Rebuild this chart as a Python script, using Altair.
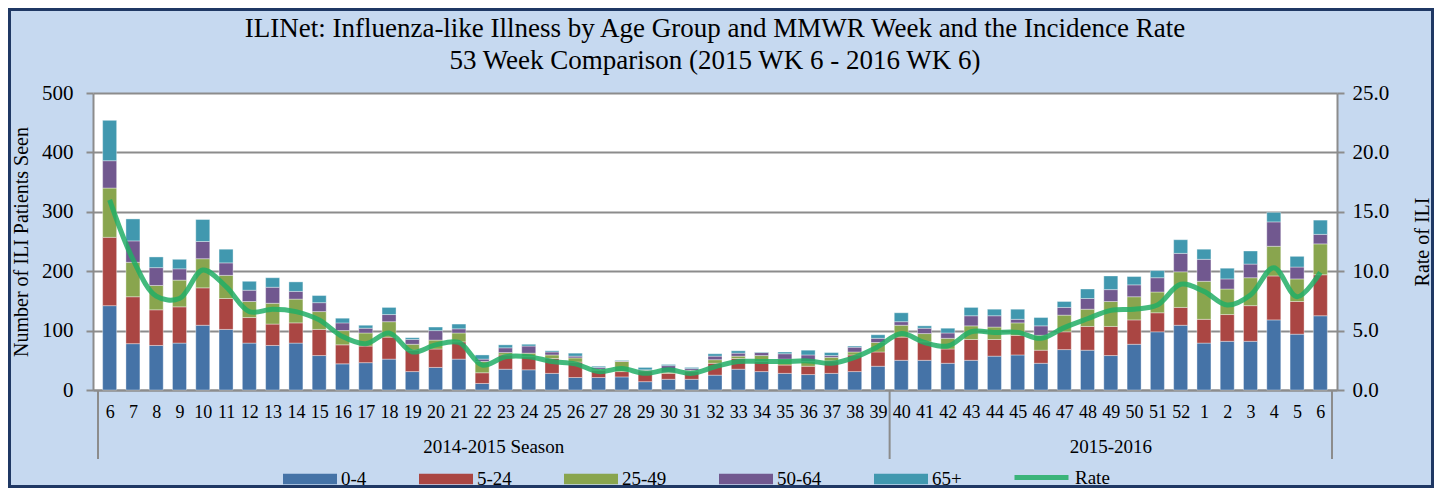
import json
import altair as alt
import pandas as pd

# ---------------- data ----------------
weeks = [str(w) for w in list(range(6, 53)) + list(range(1, 7))]
age_groups = ["0-4", "5-24", "25-49", "50-64", "65+"]
age_colors = ["#4573A7", "#AA4643", "#89A54E", "#71588F", "#4198AF"]

v_0_4 = [142, 78, 75, 79, 109, 102, 79, 75, 79, 58,
         44, 46, 52, 31, 38, 52, 11, 35, 34, 28,
         21, 21, 22, 14, 18, 18, 25, 35, 31, 28,
         26, 28, 31, 40, 50, 50, 45, 50, 57, 59,
         45, 68, 67, 58, 77, 98, 109,
         79, 82, 82, 118, 94, 125]
v_5_24 = [115, 79, 60, 61, 63, 52, 43, 36, 34, 44,
          32, 28, 37, 36, 31, 29, 18, 24, 22, 25,
          26, 12, 9, 18, 10, 13, 20, 18, 17, 14,
          14, 21, 28, 24, 39, 31, 24, 35, 28, 33,
          22, 30, 40, 49, 41, 32, 30,
          40, 45, 60, 74, 55, 69]
v_25_49 = [83, 58, 41, 45, 49, 39, 27, 35, 40, 30,
           24, 22, 26, 10, 15, 15, 19, 4, 6, 6,
           7, 2, 17, 1, 2, 2, 6, 4, 10, 10,
           8, 6, 5, 16, 20, 14, 18, 23, 21, 21,
           25, 28, 29, 42, 39, 35, 60,
           64, 43, 47, 50, 38, 52]
v_50_64 = [46, 36, 30, 19, 29, 21, 19, 27, 13, 15,
           13, 8, 12, 8, 16, 7, 4, 8, 12, 5,
           3, 3, 1, 1, 11, 3, 6, 5, 5, 9,
           11, 3, 8, 7, 6, 9, 9, 17, 19, 6,
           16, 13, 18, 20, 20, 24, 31,
           37, 17, 23, 41, 20, 16]
v_65p = [68, 37, 18, 16, 37, 23, 15, 16, 16, 12,
         8, 5, 12, 3, 6, 8, 7, 5, 3, 2,
         5, 2, 1, 4, 2, 2, 4, 4, 1, 3,
         8, 5, 2, 6, 15, 4, 8, 14, 11, 17,
         14, 10, 16, 23, 14, 12, 23,
         17, 18, 22, 16, 18, 24]
rate = [16.0, 11.0, 7.9, 7.7, 10.1, 8.7, 6.6, 6.8, 6.6, 5.9,
        4.5, 3.9, 4.8, 3.2, 3.8, 4.0, 2.1, 2.8, 2.8, 2.4,
        2.2, 1.55, 1.8, 1.4, 1.7, 1.4, 1.96, 2.4, 2.4, 2.4,
        2.45, 2.25, 2.75, 3.65, 4.75, 4.0, 3.7, 4.9, 4.85, 4.85,
        4.35, 5.25, 6.0, 6.7, 6.8, 7.15, 8.9,
        8.3, 7.15, 8.0, 10.3, 7.85, 9.9]

season_labels = ["2014-2015 Season", "2015-2016"]
season_bounds = [-0.5, 33.5, 52.5]

title_lines = ["ILINet: Influenza-like Illness by Age Group and MMWR Week and the Incidence Rate",
               "53 Week Comparison (2015 WK 6 - 2016 WK 6)"]

# ---------------- tables ----------------
series = [v_0_4, v_5_24, v_25_49, v_50_64, v_65p]
rows = []
for i in range(len(weeks)):
    for k, (g, vals) in enumerate(zip(age_groups, series)):
        rows.append({"idx": i, "age": g, "count": vals[i], "order": k})
bar_df = pd.DataFrame(rows)
rate_df = pd.DataFrame({"idx": list(range(len(weeks))), "rate": rate, "series": ["Rate"] * len(weeks)})
bound_df = pd.DataFrame({"idx": season_bounds})
season_df = pd.DataFrame({
    "idx": [(season_bounds[0] + season_bounds[1]) / 2, (season_bounds[1] + season_bounds[2]) / 2],
    "label": season_labels,
})

W, H = 1244, 297
PL, PT, PR, PB = 85, 85, 97, 98
FONT = "Liberation Serif"
GRAY = "#8c8c8c"

xscale = alt.Scale(domain=[-0.5, 52.5], nice=False, zero=False)
label_expr = json.dumps(weeks) + "[datum.value]"


def x_enc():
    return alt.X("idx:Q", scale=xscale, title=None,
                 axis=alt.Axis(values=list(range(len(weeks))), labelExpr=label_expr, ticks=False, grid=False,
                               domainColor=GRAY, domainWidth=2, labelFontSize=18, labelFont=FONT,
                               labelColor="black", labelPadding=13, labelOverlap=False, labelFlush=False,
                               labelBound=False, title=None))


bars = alt.Chart(bar_df).mark_bar(size=14, stroke="#ffffff", strokeOpacity=0.45, strokeWidth=0.8).encode(
    x=x_enc(),
    y=alt.Y("count:Q", stack="zero", scale=alt.Scale(domain=[0, 500], nice=False),
            axis=alt.Axis(title="Number of ILI Patients Seen", values=[0, 100, 200, 300, 400, 500],
                          labelFontSize=21, labelFont=FONT, labelColor="black", titleFontSize=20,
                          titleFont=FONT, titleFontWeight="normal", titleColor="black",
                          tickColor=GRAY, tickSize=7, tickWidth=2, domainColor=GRAY, domainWidth=2,
                          gridColor=GRAY, gridWidth=2, labelPadding=13, titlePadding=10)),
    color=alt.Color("age:N", scale=alt.Scale(domain=age_groups, range=age_colors),
                    legend=alt.Legend(title=None, orient="none", legendX=190, legendY=359,
                                      direction="horizontal", symbolType="M-1,-0.19H1V0.19H-1Z",
                                      symbolSize=2916, symbolStrokeWidth=0, labelFontSize=19,
                                      labelFont=FONT, labelColor="black", labelOffset=4,
                                      columnPadding=52)),
    order=alt.Order("order:Q", sort="ascending"),
)

line = alt.Chart(rate_df).mark_line(interpolate="catmull-rom", strokeWidth=5, opacity=0.85).encode(
    x=x_enc(),
    y=alt.Y("rate:Q", scale=alt.Scale(domain=[0, 25], nice=False),
            axis=alt.Axis(orient="right", title="Rate of ILI", values=[0, 5, 10, 15, 20, 25], format=".1f",
                          labelFontSize=21, labelFont=FONT, labelColor="black", titleFontSize=20,
                          titleFont=FONT, titleFontWeight="normal", titleColor="black", titleAngle=270,
                          titleBaseline="top",
                          tickColor=GRAY, tickSize=7, tickWidth=2, domainColor=GRAY, domainWidth=2,
                          grid=False, labelPadding=8, titlePadding=24)),
    stroke=alt.Stroke("series:N", scale=alt.Scale(domain=["Rate"], range=["#22AE66"]),
                      legend=alt.Legend(title=None, orient="none", legendX=919, legendY=355,
                                        symbolType="stroke", symbolSize=2916, symbolStrokeWidth=5,
                                        labelFontSize=19, labelFont=FONT, labelColor="black",
                                        labelOffset=4)),
)

seps = alt.Chart(bound_df).mark_rule(color=GRAY, strokeWidth=2).encode(
    x=x_enc(),
    y=alt.value(H), y2=alt.value(H + 69),
)

season_text = alt.Chart(season_df).mark_text(fontSize=19, font=FONT, color="black", baseline="middle").encode(
    x=x_enc(),
    y=alt.value(H + 57),
    text="label:N",
)

border = alt.Chart(pd.DataFrame({"k": [0]})).mark_rect(fillOpacity=0, stroke="#1F3864", strokeWidth=3).encode(
    x=alt.value(-PL + 1.5), x2=alt.value(W + PR - 1.5),
    y=alt.value(-PT + 1.5), y2=alt.value(H + PB - 1.5),
)

chart = alt.layer(bars, line, seps, season_text, border).resolve_scale(
    y="independent", color="independent", stroke="independent"
).properties(
    width=W, height=H,
    title=alt.TitleParams(text=title_lines, font=FONT, fontSize=27, fontWeight="normal", color="black",
                          anchor="middle", lineHeight=32, offset=0, dy=67),
    autosize=alt.AutoSizeParams(type="none"),
    padding={"left": PL, "top": PT, "right": PR, "bottom": PB},
    background="#C6D9F0",
).configure_view(fill="white", stroke=None).configure_axisX(labelOverlap=False)

chart.save("out.html", embed_options={"renderer": "svg", "actions": False})
